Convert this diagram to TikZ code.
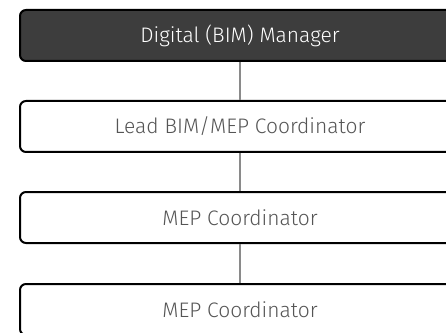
\documentclass[tikz,border=0pt]{standalone}
\usepackage{fontspec}
\setmainfont{Fira Sans}[UprightFont=* Light]
\definecolor{darkfill}{HTML}{3D3D3D}
\definecolor{txtgray}{HTML}{555555}
\definecolor{linegray}{HTML}{8A8A8A}
\tikzset{
  rolebox/.style={draw=black, line width=2pt, rounded corners=6pt, minimum width=440pt, minimum height=51pt, inner sep=0pt, font=\fontsize{21}{24}\selectfont, text=txtgray, fill=white},
  headbox/.style={rolebox, fill=darkfill, text=white},
  link/.style={draw=linegray, line width=1.3pt}
}
\begin{document}
\begin{tikzpicture}[x=1pt,y=1pt]
\useasboundingbox (0,0) rectangle (446,332);
\clip (0,0) rectangle (446,332);
\node[headbox] (a) at (240,296.5) {Digital (BIM) Manager};
\node[rolebox] (b) at (240,205.5) {Lead BIM/MEP Coordinator};
\node[rolebox] (c) at (240,114.5) {MEP Coordinator};
\node[rolebox] (d) at (240,22.5) {MEP Coordinator};
\draw[link] (a.south) -- (b.north);
\draw[link] (b.south) -- (c.north);
\draw[link] (c.south) -- (d.north);
\end{tikzpicture}
\end{document}
